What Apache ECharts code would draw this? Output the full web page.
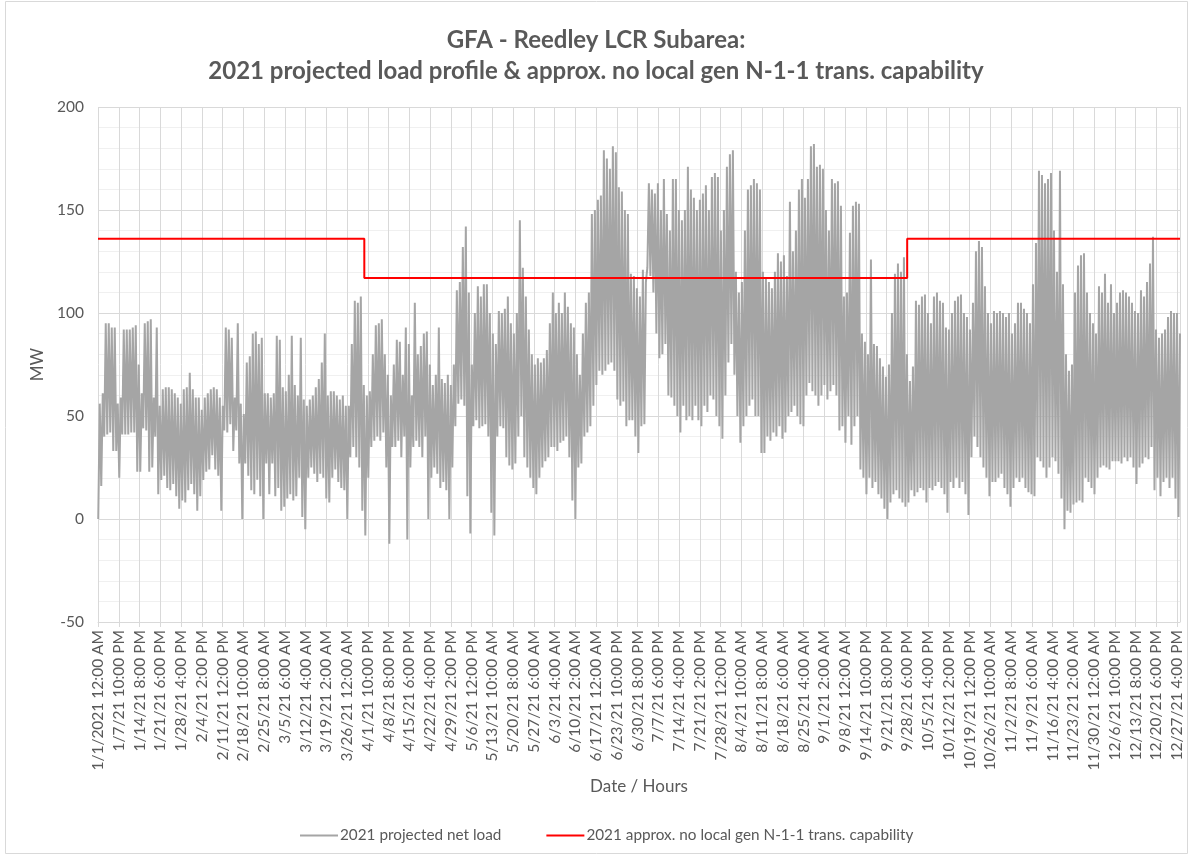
<!DOCTYPE html>
<html>
<head>
<meta charset="utf-8">
<title>GFA - Reedley LCR Subarea</title>
<script src="https://cdn.jsdelivr.net/npm/echarts@6/dist/echarts.min.js"></script>
<style>
  html, body { margin: 0; padding: 0; background: #ffffff; }
  #chart { width: 1192px; height: 856px; }
</style>
</head>
<body>
<div id="chart"></div>
<script>
// Hour-axis tick labels, one every 166 hourly records
const tickLabels = [
  '1/1/2021 12:00 AM', '1/7/21 10:00 PM', '1/14/21 8:00 PM', '1/21/21 6:00 PM', '1/28/21 4:00 PM',
  '2/4/21 2:00 PM', '2/11/21 12:00 PM', '2/18/21 10:00 AM', '2/25/21 8:00 AM', '3/5/21 6:00 AM',
  '3/12/21 4:00 AM', '3/19/21 2:00 AM', '3/26/21 12:00 AM', '4/1/21 10:00 PM', '4/8/21 8:00 PM',
  '4/15/21 6:00 PM', '4/22/21 4:00 PM', '4/29/21 2:00 PM', '5/6/21 12:00 PM', '5/13/21 10:00 AM',
  '5/20/21 8:00 AM', '5/27/21 6:00 AM', '6/3/21 4:00 AM', '6/10/21 2:00 AM', '6/17/21 12:00 AM',
  '6/23/21 10:00 PM', '6/30/21 8:00 PM', '7/7/21 6:00 PM', '7/14/21 4:00 PM', '7/21/21 2:00 PM',
  '7/28/21 12:00 PM', '8/4/21 10:00 AM', '8/11/21 8:00 AM', '8/18/21 6:00 AM', '8/25/21 4:00 AM',
  '9/1/21 2:00 AM', '9/8/21 12:00 AM', '9/14/21 10:00 PM', '9/21/21 8:00 PM', '9/28/21 6:00 PM',
  '10/5/21 4:00 PM', '10/12/21 2:00 PM', '10/19/21 12:00 PM', '10/26/21 10:00 AM', '11/2/21 8:00 AM',
  '11/9/21 6:00 AM', '11/16/21 4:00 AM', '11/23/21 2:00 AM', '11/30/21 12:00 AM', '12/6/21 10:00 PM',
  '12/13/21 8:00 PM', '12/20/21 6:00 PM', '12/27/21 4:00 PM'
];
const HOURS_PER_TICK = 166;
const LAST_HOUR = 8654;

// Projected net load (MW): daily minimum and daily peak, one entry per day
const dailyLow = [
  0, 16, 40, 41, 42, 33, 33,   20, 41, 41, 41, 42, 42, 23,
  23, 44, 43, 23, 25, 40, 12,  19, 21, 15, 14, 17, 11, 5,
  9, 8, 14, 17, 12, 4, 11,     19, 23, 24, 31, 24, 21, 4,
  43, 42, 46, 33, 43, 27, 0,   27, 21, 14, 12, 19, 11, 0,
  27, 12, 27, 11, 15, 4, 6,    10, 12, 9, 11, 20, 1, -5,
  20, 25, 22, 18, 22, 20, 10,  8, 20, 24, 18, 15, 14, 0,
  30, 35, 30, 25, 4, -8, 20,   35, 38, 40, 38, 42, 25, -12,
  35, 35, 38, 30, 40, -10, 25, 35, 38, 35, 30, 40, 0, 20,
  25, 22, 15, 18, 14, 0, 25,   45, 56, 58, 55, 11, -7, 45,
  48, 44, 45, 46, 40, 3, -8,   40, 45, 44, 30, 26, 24, 27,
  40, 50, 30, 25, 20, 15, 12,  20, 25, 28, 30, 35, 35, 33,
  37, 38, 40, 30, 9, 0, 25,    27, 40, 42, 45, 55, 65, 72,
  70, 72, 75, 76, 72, 58, 55,  57, 45, 48, 48, 40, 32, 45,
  46, 122, 118, 110, 90, 78,   80, 85, 60, 59, 55, 50, 42,
  55, 48, 50, 48, 55, 48, 45,  55, 52, 60, 58, 50, 45, 39,
  60, 76, 85, 70, 50, 37, 45,  50, 55, 58, 50, 50, 32, 32,
  40, 38, 42, 40, 45, 39, 42,  50, 52, 55, 50, 46, 45, 60,
  66, 62, 60, 55, 60, 65, 58,  62, 65, 60, 43, 45, 37, 50,
  36, 45, 50, 24, 20, 12, 20,  15, 18, 12, 10, 5, 0, 8,
  12, 14, 10, 8, 6, 8, 14,     11, 13, 15, 14, 8, 15, 14,
  16, 18, 15, 12, 3, 18, 15,   20, 15, 18, 12, 2, 30, 40,
  35, 30, 25, 20, 11, 18, 18,  20, 22, 15, 12, 6, 15, 20,
  18, 20, 15, 13, 12, 11, 30,  28, 25, 20, 25, 30, 28, 22,
  10, -5, 4, 3, 7, 8, 9,       8, 20, 18, 15, 12, 20, 25,
  26, 25, 24, 28, 28, 28, 27,  30, 28, 30, 25, 17, 25, 27,
  30, 29, 35, 14, 20, 11, 18,  20, 15, 20, 10, 1
];
const dailyHigh = [
  56, 61, 95, 95, 93, 93, 56,  59, 92, 92, 92, 93, 94, 75,
  61, 95, 96, 97, 59, 93, 55,  63, 64, 64, 63, 61, 59, 56,
  63, 64, 71, 63, 59, 59, 53,  59, 61, 63, 64, 63, 59, 55,
  93, 92, 88, 59, 95, 56, 51,  76, 79, 90, 91, 85, 88, 61,
  61, 59, 61, 89, 87, 64, 62,  70, 89, 65, 60, 88, 58, 55,
  58, 60, 64, 68, 76, 90, 60,  62, 62, 60, 58, 60, 55, 55,
  85, 106, 105, 108, 65, 60, 62, 80, 94, 95, 97, 80, 70, 60,
  75, 87, 86, 70, 93, 85, 60,  105, 80, 84, 90, 91, 75, 65,
  70, 93, 68, 66, 70, 65, 75,  111, 115, 132, 142, 110, 75, 100,
  113, 108, 114, 114, 100, 90, 85, 101, 100, 102, 108, 95, 90, 100,
  145, 122, 108, 92, 80, 75, 78, 76, 78, 82, 95, 110, 100, 105,
  100, 110, 103, 95, 93, 80, 70, 90, 105, 110, 148, 150, 155, 157,
  179, 175, 170, 181, 178, 161, 159, 150, 148, 119, 118, 112, 108, 121,
  115, 163, 160, 158, 163, 150, 165, 148, 140, 165, 165, 150, 145,
  150, 171, 160, 156, 150, 155, 158, 162, 150, 166, 168, 166, 140, 150,
  171, 177, 179, 120, 110, 115, 140, 160, 162, 165, 163, 160, 120, 117,
  115, 112, 120, 129, 125, 128, 118, 154, 130, 140, 160, 165, 156, 165,
  181, 182, 171, 172, 170, 150, 140, 165, 163, 164, 152, 108, 110, 139,
  152, 154, 153, 90, 86, 80, 126, 85, 84, 78, 74, 69, 75, 100,
  119, 124, 120, 127, 80, 67, 74, 106, 104, 108, 109, 100, 95, 108,
  110, 106, 105, 93, 92, 100, 106, 108, 109, 100, 98, 92, 105, 130,
  135, 132, 113, 100, 95, 101, 100, 101, 100, 98, 100, 90, 95, 105,
  105, 102, 100, 95, 114, 134, 169, 167, 163, 165, 168, 140, 120, 169,
  114, 80, 72, 75, 110, 123, 128, 129, 110, 100, 95, 90, 113, 110,
  119, 105, 114, 100, 105, 110, 111, 110, 108, 105, 101, 100, 111, 108,
  115, 124, 137, 92, 88, 90, 92, 98, 101, 100, 100, 90
];

// No-local-generation N-1-1 transmission capability (MW), stepped by hour index
const capHours = [0, 2130, 2130, 6472, 6472, 8654];
const capMW = [136, 136, 117, 117, 136, 136];

// Each day is drawn as its overnight minimum followed by its peak
const loadPoints = [];
for (let d = 0; d < dailyLow.length; d++) {
  loadPoints.push([d * 24 + 2, dailyLow[d]]);
  loadPoints.push([d * 24 + 14, dailyHigh[d]]);
}
const capPoints = capHours.map((h, i) => [h, capMW[i]]);

const FONT = 'Lato, "Open Sans", sans-serif';
const TEXT = '#595959';
const GRID = '#d9d9d9';

const chart = echarts.init(document.getElementById('chart'), null, { renderer: 'canvas' });
chart.setOption({
  animation: false,
  backgroundColor: '#ffffff',
  textStyle: { fontFamily: FONT },
  title: {
    text: 'GFA - Reedley LCR Subarea:\n2021 projected load profile & approx. no local gen N-1-1 trans. capability',
    left: 'center',
    top: 20,
    textStyle: { fontFamily: FONT, fontSize: 24, fontWeight: 'bold', color: TEXT, lineHeight: 31 }
  },
  legend: {
    left: 295,
    top: 823,
    icon: 'rect',
    itemWidth: 38,
    itemHeight: 2,
    itemGap: 45,
    textStyle: { fontFamily: FONT, fontSize: 15.3, color: TEXT, padding: [0, 0, 0, -3] },
    data: ['2021 projected net load', '2021 approx. no local gen N-1-1 trans. capability']
  },
  grid: { left: 98, right: 12, top: 107, bottom: 234, containLabel: false },
  xAxis: {
    type: 'value',
    min: 0,
    max: LAST_HOUR,
    interval: HOURS_PER_TICK,
    name: 'Date / Hours',
    nameLocation: 'middle',
    nameGap: 153,
    nameTextStyle: { fontFamily: FONT, fontSize: 17, color: TEXT },
    axisLine: { show: true, onZero: false, lineStyle: { color: GRID, width: 1 } },
    axisTick: { show: true, length: 5, lineStyle: { color: GRID } },
    axisLabel: {
      rotate: 90,
      margin: 8,
      fontFamily: FONT,
      fontSize: 15.5,
      color: TEXT,
      showMaxLabel: false,
      formatter: function (v) {
        const k = Math.round(v / HOURS_PER_TICK);
        return (Math.abs(v - k * HOURS_PER_TICK) < 1e-6 && tickLabels[k]) ? tickLabels[k] : '';
      }
    },
    splitLine: { show: true, lineStyle: { color: GRID, width: 1 } }
  },
  yAxis: {
    type: 'value',
    min: -50,
    max: 200,
    interval: 50,
    name: 'MW',
    nameLocation: 'middle',
    nameGap: 50,
    nameRotate: 90,
    nameTextStyle: { fontFamily: FONT, fontSize: 17, color: TEXT },
    axisLine: { show: false },
    axisTick: { show: false },
    axisLabel: { margin: 14, fontFamily: FONT, fontSize: 15.5, color: TEXT },
    splitLine: { show: true, lineStyle: { color: GRID, width: 1 } },
    minorTick: { show: false, splitNumber: 5 },
    minorSplitLine: { show: true, lineStyle: { color: '#f0f0f0', width: 1 } }
  },
  series: [
    {
      name: '2021 projected net load',
      type: 'line',
      data: loadPoints,
      showSymbol: false,
      symbol: 'none',
      color: '#a5a5a5',
      lineStyle: { color: '#a5a5a5', width: 2 },
      z: 2
    },
    {
      name: '2021 approx. no local gen N-1-1 trans. capability',
      type: 'line',
      data: capPoints,
      showSymbol: false,
      symbol: 'none',
      color: '#ff0000',
      lineStyle: { color: '#ff0000', width: 2 },
      z: 3
    }
  ],
  graphic: [
    {
      type: 'rect',
      silent: true,
      shape: { x: 5.5, y: 1.5, width: 1182, height: 852 },
      style: { fill: 'none', stroke: '#d9d9d9', lineWidth: 1 }
    }
  ]
});
</script>
</body>
</html>
